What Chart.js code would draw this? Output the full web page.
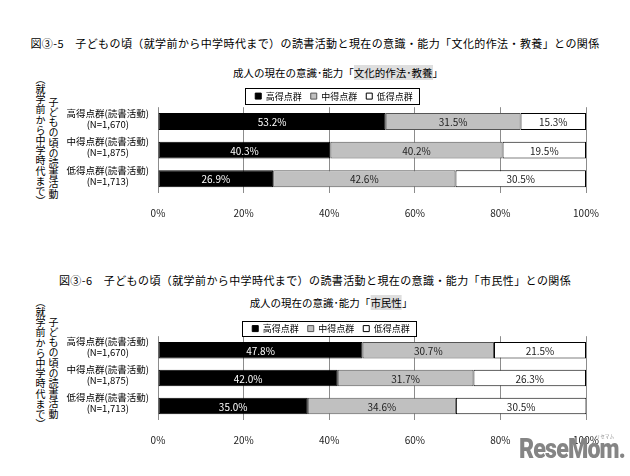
<!DOCTYPE html>
<html>
<head>
<meta charset="utf-8">
<script src="https://cdn.jsdelivr.net/npm/chart.js@4/dist/chart.umd.min.js"></script>
<style>
  html, body { margin: 0; padding: 0; background: #fff; }
  body { width: 630px; height: 476px; position: relative; overflow: hidden; font-family: "Noto Sans CJK JP", sans-serif; color: #000; }
  .title { position: absolute; left: 0; width: 630px; text-align: center; font-size: 11px; letter-spacing: 0.4px; line-height: 14px; white-space: nowrap; }
  .sub { position: absolute; font-size: 10.5px; line-height: 14px; white-space: nowrap; transform: translateX(-50%); }
  .sub span { background: #dedede; }
  .vcol { position: absolute; writing-mode: vertical-rl; font-size: 10px; line-height: 12px; letter-spacing: 0.2px; white-space: nowrap; }
  canvas { position: absolute; left: 0; }
  .logo { position: absolute; left: 519px; top: 433px; font-family: Roboto, sans-serif; font-weight: 900; font-size: 27px; color: #858585; letter-spacing: -1px; transform: scaleX(0.86); transform-origin: left top; line-height: 32px; }
  .logo small { position: absolute; right: 12px; top: 0px; font-size: 5px; letter-spacing: 0.5px; font-weight: 400; font-family: "Noto Sans CJK JP", sans-serif; line-height: 6px; }
</style>
</head>
<body>
<div class="title" style="top:36px;">図③-5　子どもの頃（就学前から中学時代まで）の読書活動と現在の意識・能力「文化的作法・教養」との関係</div>
<div class="sub" style="left:338px; top:66px;">成人の現在の意識･能力「<span>文化的作法･教養</span>」</div>
<div class="vcol" style="left:47px; top:97px;">子どもの頃の読書活動</div>
<div class="vcol" style="left:34px; top:74px;">（就学前から中学時代まで）</div>
<canvas id="c1" width="630" height="157" style="top:81px;"></canvas>

<div class="title" style="top:273px;">図③-6　子どもの頃（就学前から中学時代まで）の読書活動と現在の意識・能力「市民性」との関係</div>
<div class="sub" style="left:331px; top:296px;">成人の現在の意識･能力「<span>市民性</span>」</div>
<div class="vcol" style="left:47px; top:317px;">子どもの頃の読書活動</div>
<div class="vcol" style="left:34px; top:297px;">（就学前から中学時代まで）</div>
<canvas id="c2" width="630" height="154" style="top:311px;"></canvas>

<div class="logo">ReseMom.<small>リセマム</small></div>

<script>
// ---- data ----
const categories = [
  ["高得点群(読書活動)", "(N=1,670)"],
  ["中得点群(読書活動)", "(N=1,875)"],
  ["低得点群(読書活動)", "(N=1,713)"]
];
const seriesNames = ["高得点群", "中得点群", "低得点群"];
const cultureHigh = [53.2, 40.3, 26.9];
const cultureMid  = [31.5, 40.2, 42.6];
const cultureLow  = [15.3, 19.5, 30.5];
const civicHigh = [47.8, 42.0, 35.0];
const civicMid  = [30.7, 31.7, 34.6];
const civicLow  = [21.5, 26.3, 30.5];
const xTickValues = [0, 20, 40, 60, 80, 100];

const FONT = "'Noto Sans CJK JP', sans-serif";
const fills = ["#000000", "#c0c0c0", "#ffffff"];
const labelColors = ["#ffffff", "#222222", "#222222"];

const valueLabels = {
  id: 'valueLabels',
  afterDatasetsDraw(chart) {
    const ctx = chart.ctx;
    ctx.save();
    ctx.font = "10px " + FONT;
    ctx.textAlign = 'center';
    ctx.textBaseline = 'middle';
    chart.data.datasets.forEach((ds, di) => {
      const meta = chart.getDatasetMeta(di);
      meta.data.forEach((el, i) => {
        const p = el.getProps(['x', 'y', 'base'], true);
        ctx.fillStyle = labelColors[di];
        ctx.fillText(ds.data[i].toFixed(1) + '%', (p.x + p.base) / 2, p.y + 1);
      });
    });
    ctx.restore();
  }
};

const legendBorder = {
  id: 'legendBorder',
  afterDraw(chart, args, opts) {
    const lg = chart.legend;
    if (!lg || !lg.legendHitBoxes.length) return;
    const hb = lg.legendHitBoxes;
    const left = Math.min(...hb.map(h => h.left)) - 10;
    const right = Math.max(...hb.map(h => h.left + h.width)) + 6;
    const cy = hb[0].top + hb[0].height / 2;
    const ctx = chart.ctx;
    ctx.save();
    ctx.strokeStyle = '#000';
    ctx.lineWidth = 1;
    ctx.strokeRect(Math.round(left) + 0.5, Math.round(cy - opts.half) + 0.5, Math.round(right - left), Math.round(opts.half * 2));
    ctx.restore();
  }
};

function makeChart(id, high, mid, low, L) {
  const values = [high, mid, low];
  const chart = new Chart(document.getElementById(id), {
    type: 'bar',
    data: {
      labels: categories,
      datasets: seriesNames.map((name, k) => ({
        label: name,
        data: values[k],
        backgroundColor: fills[k],
        borderColor: k === 1 ? '#555555' : '#000000',
        borderWidth: 1,
        borderSkipped: false,
        categoryPercentage: 1,
        barPercentage: 0.59
      }))
    },
    options: {
      indexAxis: 'y',
      responsive: false,
      animation: false,
      layout: { padding: { left: 30, right: 44, top: L.top, bottom: L.bottom } },
      scales: {
        x: {
          stacked: true, min: 0, max: 100,
          afterBuildTicks(scale) { scale.ticks = xTickValues.map(v => ({ value: v })); },
          ticks: { callback: v => v + '%', color: '#222', font: { size: 10, family: FONT }, padding: 14, maxRotation: 0 },
          grid: { color: '#8c8c8c', lineWidth: 1, drawTicks: false },
          border: { display: false }
        },
        y: {
          stacked: true,
          afterFit(scale) { scale.width = 128; },
          ticks: { autoSkip: false, crossAlign: 'center', padding: 1, labelOffset: -3, color: '#000', font: { size: 9.5, family: FONT, lineHeight: 1.15 } },
          grid: { display: false },
          border: { display: false }
        }
      },
      plugins: {
        legend: {
          position: 'top',
          labels: { boxWidth: 6, boxHeight: 6, padding: 9, color: '#000', font: { size: 9, family: FONT } }
        },
        legendBorder: { half: L.half },
        tooltip: { enabled: false },
        title: { display: false }
      }
    },
    plugins: [valueLabels, legendBorder, {
      id: 'legendAdjust',
      afterInit(ch) {
        const lg = ch.legend;
        const orig = lg.fit.bind(lg);
        lg.fit = function () { orig(); this.height -= L.shrink; };
        ch.update();
      },
      afterLayout(ch) {
        const lg = ch.legend;
        const shift = L.legendCenter - (lg.left + lg.right) / 2;
        lg.left += shift;
        lg.right += shift;
      }
    }]
  });
  return chart;
}

makeChart('c1', cultureHigh, cultureMid, cultureLow, { top: 1.6, bottom: 5, shrink: 3.4, half: 8, legendCenter: 334 });
makeChart('c2', civicHigh, civicMid, civicLow, { top: 4.1, bottom: 5, shrink: 6.9, half: 7.5, legendCenter: 331 });
</script>
</body>
</html>
